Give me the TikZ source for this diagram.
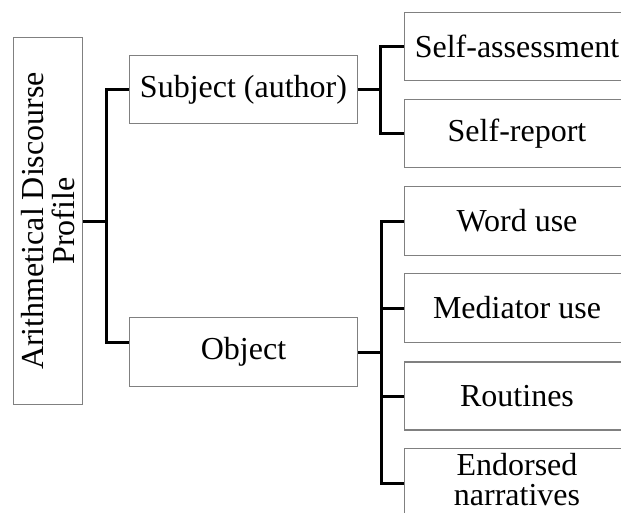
\documentclass[tikz,border=0pt]{standalone}
\usepackage{fontspec}
\setmainfont{Liberation Serif}
\usetikzlibrary{calc}
\begin{document}
\begin{tikzpicture}[x=1pt,y=-1pt,
  box/.style={draw=black!50, line width=1.3pt, inner sep=0pt, align=center,
    font=\fontsize{32}{31}\selectfont},
  conn/.style={draw=black, line width=3pt}]
\useasboundingbox (0,0) rectangle (621,512);
\clip (0,0) rectangle (621,512);
\node[box, rotate=90, minimum width=367, minimum height=69] (root) at (48,221)
  {Arithmetical Discourse\\Profile};
\node[box, minimum width=228, minimum height=68] (sub) at (243.5,89.5) {Subject (author)};
\node[box, minimum width=228, minimum height=69] (obj) at (243.5,352) {Object};
\node[box, minimum width=225, minimum height=68] (sa) at (517,46.5) {Self-assessment};
\node[box, minimum width=225, minimum height=68] (sr) at (517,133.5) {Self-report};
\node[box, minimum width=225, minimum height=69] (wu) at (517,221) {Word use};
\node[box, minimum width=225, minimum height=69] (mu) at (517,308) {Mediator use};
\node[box, minimum width=225, minimum height=68] (ro) at (517,396) {Routines};
\node[box, minimum width=225, minimum height=69,
  label={[align=center, inner sep=0pt, font=\fontsize{32}{30}\selectfont, yshift=3pt]center:{Endorsed\\narratives}}] (en) at (517,483) {};
% root connectors
\coordinate (j1) at (106,221);
\coordinate (oin) at ($(obj.north west)!0.37!(obj.south west)$);
\draw[conn] (root.south) -- (j1);
\draw[conn] (sub.west) -| (j1) |- (oin);
% subject connectors
\coordinate (j2) at (380,89.5);
\draw[conn] (sub.east) -- (j2);
\draw[conn] (sa.west) -| (j2) |- (sr.west);
% object connectors
\coordinate (j3) at (381,352);
\draw[conn] (obj.east) -- (j3);
\draw[conn] (wu.west) -| (j3) |- (en.west);
\draw[conn] (mu.west) -- (mu.west -| j3);
\draw[conn] (ro.west) -- (ro.west -| j3);
\end{tikzpicture}
\end{document}
